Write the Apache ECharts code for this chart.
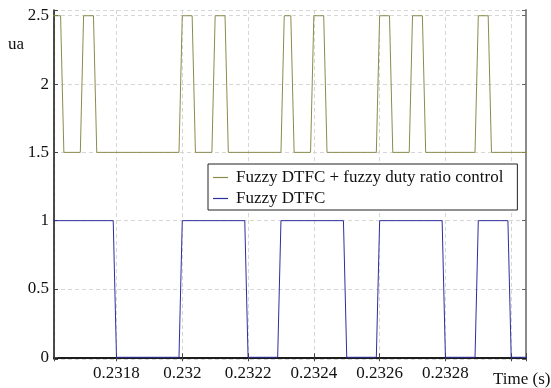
<!DOCTYPE html>
<html>
<head>
<meta charset="utf-8">
<script src="https://cdn.jsdelivr.net/npm/echarts@6/dist/echarts.min.js"></script>
<style>
  html, body {margin: 0; padding: 0; background: #fff;}
  #chart {width: 551px; height: 388px;}
</style>
</head>
<body>
<div id="chart"></div>
<script>
// ua, Fuzzy DTFC + fuzzy duty ratio control (time in s)
const dutyTime = [0.2316, 0.23163, 0.23164, 0.23169, 0.23170, 0.23173, 0.23174, 0.23199, 0.23200,
  0.23203, 0.23204, 0.23209, 0.23210, 0.23213, 0.23214, 0.23230, 0.23231, 0.23233, 0.23234,
  0.23239, 0.23240, 0.23243, 0.23244, 0.23259, 0.23260, 0.23263, 0.23264, 0.23269, 0.23270,
  0.23273, 0.23274, 0.23289, 0.23290, 0.23293, 0.23294, 0.23306];
const dutyUa = [2.5, 2.5, 1.5, 1.5, 2.5, 2.5, 1.5, 1.5, 2.5,
  2.5, 1.5, 1.5, 2.5, 2.5, 1.5, 1.5, 2.5, 2.5, 1.5,
  1.5, 2.5, 2.5, 1.5, 1.5, 2.5, 2.5, 1.5, 1.5, 2.5,
  2.5, 1.5, 1.5, 2.5, 2.5, 1.5, 1.5];

// ua, Fuzzy DTFC
const fuzzyTime = [0.2316, 0.23179, 0.23180, 0.23199, 0.23200, 0.23219, 0.23220, 0.23229, 0.23230,
  0.23249, 0.23250, 0.23259, 0.23260, 0.23279, 0.23280, 0.23289, 0.23290, 0.23299, 0.23300, 0.23306];
const fuzzyUa = [1, 1, 0, 0, 1, 1, 0, 0, 1,
  1, 0, 0, 1, 1, 0, 0, 1, 1, 0, 0];

const seriesNames = ['Fuzzy DTFC + fuzzy duty ratio control', 'Fuzzy DTFC'];
const colors = ['#8b8b4e', '#2e2e9c'];

const font = "'Liberation Serif', 'Times New Roman', serif";
const xMin = 0.23161, xMax = 0.233045;
const yMin = -0.0125, yMax = 2.542;

const chart = echarts.init(document.getElementById('chart'));

const xLabel = v => {
  const r = Math.round(v * 1e4) / 1e4;
  if (Math.abs(v - r) > 1e-9 || r >= 0.233) return '';
  return String(r);
};
const yLabel = v => {
  const r = Math.round(v * 2) / 2;
  if (Math.abs(v - r) > 1e-9) return '';
  return String(r);
};

const dash = {show: true, lineStyle: {color: '#d6d6d6', type: [4, 3], width: 1}};

chart.setOption({
  animation: false,
  backgroundColor: '#fff',
  textStyle: {fontFamily: font},
  grid: {left: 54, right: 25, top: 10, bottom: 29},
  legend: {
    orient: 'vertical',
    left: 208,
    top: 164,
    padding: [5, 14, 3, 5],
    itemGap: 4,
    itemWidth: 15,
    itemHeight: 1.2,
    icon: 'rect',
    backgroundColor: '#fff',
    borderColor: '#222',
    borderWidth: 1,
    textStyle: {fontFamily: font, fontSize: 17, color: '#111', padding: [0, 0, 0, 3]},
    data: seriesNames
  },
  xAxis: [
    {
      type: 'value', min: xMin, max: xMax, splitNumber: 7,
      minInterval: 0.0002, maxInterval: 0.0002,
      axisLine: {show: true, lineStyle: {color: '#111', width: 1.5}},
      axisTick: {show: true, inside: true, length: 4, lineStyle: {color: '#444'}},
      axisLabel: {margin: 6, fontSize: 17, color: '#111', fontFamily: font, formatter: xLabel},
      splitLine: dash
    },
    {
      type: 'value', position: 'top', min: xMin, max: xMax, splitNumber: 7,
      minInterval: 0.0002, maxInterval: 0.0002,
      axisLine: {show: true, lineStyle: {color: '#111', width: 1.5}},
      axisTick: {show: true, inside: true, length: 4, lineStyle: {color: '#444'}},
      axisLabel: {show: false},
      splitLine: {show: false}
    }
  ],
  yAxis: [
    {
      type: 'value', min: yMin, max: yMax, splitNumber: 5,
      minInterval: 0.5, maxInterval: 0.5,
      axisLine: {show: true, lineStyle: {color: '#111', width: 1.5}},
      axisTick: {show: true, inside: true, length: 4, lineStyle: {color: '#444'}},
      axisLabel: {margin: 5, fontSize: 17, color: '#111', fontFamily: font, formatter: yLabel},
      splitLine: dash
    },
    {
      type: 'value', position: 'right', min: yMin, max: yMax, splitNumber: 5,
      minInterval: 0.5, maxInterval: 0.5,
      axisLine: {show: true, lineStyle: {color: '#8a8a8a', width: 2}},
      axisTick: {show: true, inside: true, length: 4, lineStyle: {color: '#666'}},
      axisLabel: {show: false},
      splitLine: {show: false}
    }
  ],
  graphic: [
    {type: 'text', left: 8, top: 36, style: {text: 'ua', font: '17px ' + font, fill: '#111'}},
    {type: 'text', left: 493, top: 371, style: {text: 'Time (s)', font: '17px ' + font, fill: '#111'}}
  ],
  series: [
    {
      name: seriesNames[0],
      data: dutyTime.map((t, i) => [t, dutyUa[i]]),
      color: colors[0]
    },
    {
      name: seriesNames[1],
      data: fuzzyTime.map((t, i) => [t, fuzzyUa[i]]),
      color: colors[1]
    }
  ].map(s => ({
    ...s,
    type: 'line',
    symbol: 'none',
    clip: true,
    lineStyle: {width: 1, color: s.color},
    itemStyle: {color: s.color}
  }))
});
</script>
</body>
</html>
